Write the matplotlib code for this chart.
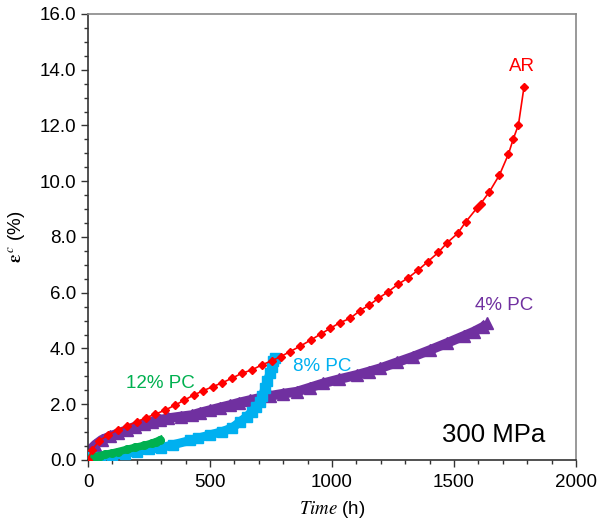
import matplotlib.pyplot as plt
from matplotlib.ticker import MultipleLocator, FormatStrFormatter

plt.rcParams['font.family'] = ['Liberation Sans', 'DejaVu Sans']
plt.rcParams['mathtext.fontset'] = 'stix'

# creep strain curves at 300 MPa (time in h, strain in %)
ar_t = [0, 15, 46, 83, 122, 159, 200, 238, 275, 316, 357, 395, 433, 473, 511,
        550, 589, 630, 671, 712, 753, 790, 828, 869, 912, 954, 992, 1033, 1074,
        1115, 1153, 1190, 1231, 1272, 1313, 1354, 1392, 1436, 1473, 1515, 1549,
        1595, 1610, 1645, 1686, 1723, 1743, 1764, 1787]
ar_e = [0.0, 0.36, 0.69, 0.90, 1.08, 1.22, 1.37, 1.52, 1.64, 1.79, 1.97, 2.15,
        2.33, 2.49, 2.63, 2.77, 2.93, 3.11, 3.23, 3.41, 3.56, 3.71, 3.89, 4.08,
        4.30, 4.52, 4.72, 4.93, 5.08, 5.36, 5.56, 5.80, 6.04, 6.31, 6.54, 6.82,
        7.11, 7.45, 7.80, 8.13, 8.55, 9.05, 9.20, 9.62, 10.22, 10.97, 11.52,
        12.02, 13.39]

pc4_t = [0, 15, 30, 56, 90, 124, 160, 193, 230, 261, 295, 329, 380, 425, 460,
         500, 540, 582, 620, 664, 700, 746, 800, 855, 910, 964, 1030, 1101,
         1150, 1197, 1265, 1333, 1400, 1470, 1540, 1580, 1620, 1635]
pc4_e = [0.0, 0.42, 0.55, 0.72, 0.85, 0.96, 1.08, 1.20, 1.30, 1.37, 1.44, 1.50,
         1.56, 1.61, 1.70, 1.79, 1.88, 1.97, 2.06, 2.15, 2.22, 2.30, 2.38, 2.45,
         2.60, 2.75, 2.90, 3.05, 3.17, 3.29, 3.50, 3.71, 3.94, 4.19, 4.45, 4.60,
         4.78, 4.90]

pc8_t = [0, 20, 50, 100, 150, 200, 250, 300, 350, 418, 450, 500, 550, 590, 623,
         650, 671, 690, 705, 715, 725, 735, 746, 755, 760, 766]
pc8_e = [0.10, 0.05, 0.10, 0.16, 0.23, 0.30, 0.38, 0.44, 0.55, 0.70, 0.78, 0.90,
         1.02, 1.15, 1.37, 1.55, 1.73, 1.90, 2.09, 2.30, 2.57, 2.85, 3.11, 3.35,
         3.55, 3.66]

pc12_t = [0, 15, 29, 50, 70, 100, 124, 160, 193, 230, 261, 280, 295]
pc12_e = [0.05, 0.08, 0.12, 0.16, 0.20, 0.25, 0.30, 0.38, 0.45, 0.52, 0.60,
          0.66, 0.72]

red = '#FF0000'
purple = '#7030A0'
cyan = '#00B0F0'
green = '#00B050'

fig = plt.figure(figsize=(6, 5.28), dpi=100)
ax = fig.add_axes([0.1467, 0.1288, 0.8133, 0.8447])

ax.plot(pc4_t, pc4_e, color=purple, lw=7, marker='^', ms=8, mec=purple,
        mfc=purple, solid_capstyle='butt', zorder=2)
ax.plot(pc8_t, pc8_e, color=cyan, lw=6.5, marker='s', ms=6.5, mec=cyan,
        mfc=cyan, solid_capstyle='butt', zorder=3)
ax.plot(pc12_t, pc12_e, color=green, lw=5.5, marker='o', ms=5.5, mec=green,
        mfc=green, zorder=4)
ax.plot(ar_t, ar_e, color=red, lw=1.2, marker='D', ms=4.3, mec=red,
        mfc=red, zorder=5)

ax.text(1780, 13.8, 'AR', color=red, fontsize=13.5, ha='center', va='bottom')
ax.text(1705, 5.25, '4% PC', color=purple, fontsize=13.5, ha='center', va='bottom')
ax.text(960, 3.05, '8% PC', color=cyan, fontsize=13.5, ha='center', va='bottom')
ax.text(295, 2.45, '12% PC', color=green, fontsize=13.5, ha='center', va='bottom')
ax.text(1875, 0.45, '300 MPa', color='black', fontsize=18.5, ha='right', va='bottom')

ax.set_xlim(0, 2000)
ax.set_ylim(0, 16)
ax.xaxis.set_major_locator(MultipleLocator(500))
ax.xaxis.set_minor_locator(MultipleLocator(100))
ax.yaxis.set_major_locator(MultipleLocator(2))
ax.yaxis.set_minor_locator(MultipleLocator(0.5))
ax.yaxis.set_major_formatter(FormatStrFormatter('%.1f'))
ax.tick_params(which='major', length=5, width=1, labelsize=13.5, color='#333333')
ax.tick_params(which='minor', length=3, width=1, color='#333333')
ax.tick_params(axis='x', pad=5)

for side in ('left', 'bottom'):
    ax.spines[side].set_color('#333333')
for side in ('top', 'right'):
    ax.spines[side].set_color('#888888')
for sp in ax.spines.values():
    sp.set_linewidth(1.2)

ax.set_xlabel(r'$\mathit{Time}$ (h)', fontsize=13.5, labelpad=6)
ax.set_ylabel(r'$\boldsymbol{\varepsilon}^{\,c}$ (%)', fontsize=13.5, labelpad=8)

fig.savefig('out.png', dpi=100)
